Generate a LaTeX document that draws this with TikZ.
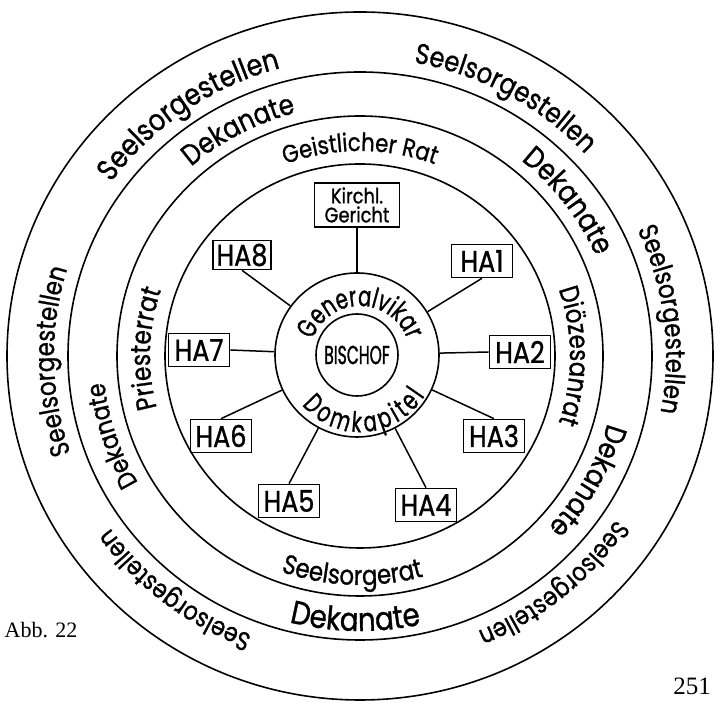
\documentclass[tikz,border=0pt]{standalone}
\usepackage{fontspec}
\usetikzlibrary{decorations.text}

\newfontfamily\ringfont[FakeStretch=0.85,FakeBold=1]{Poppins}
\newfontfamily\narrowfont[FakeStretch=0.7,FakeBold=1]{Poppins}
\newfontfamily\bischoffont[FakeStretch=0.6,FakeBold=1.2]{Poppins}
\newfontfamily\pagefont{Liberation Serif}

% text set along an arc of the rings: [font] size, x radius, y radius, from, to, text
\newcommand{\ringkern}{0pt}
\newcommand{\ringtext}[7][\ringfont]{%
  \def\ringsize{#1\fontsize{#2}{#2}\selectfont\kern\ringkern}%
  \path[decorate,decoration={text along path,text align=center,text={|\ringsize|#7}}]
    (C) ++(#5:#3 and #4) arc[start angle=#5,end angle=#6,x radius=#3,y radius=#4];
}

\begin{document}
\begin{tikzpicture}[x=1pt,y=1pt,
  circleline/.style={line width=1.6pt},
  habox/.style={draw,line width=1.6pt,inner sep=0pt,minimum width=61pt,minimum height=33pt,
    font=\ringfont\fontsize{30}{30}\selectfont},
  spoke/.style={line width=1.5pt}]
  \useasboundingbox (0,0) rectangle (715,703);
  \coordinate (C) at (360,347);
  \coordinate (S) at (357,348);

  % the four big rings
  \draw[circleline] (C) ellipse [x radius=195,y radius=192];
  \draw[circleline] (C) ellipse [x radius=243,y radius=240];
  \draw[circleline] (C) ellipse [x radius=292,y radius=284];
  \draw[circleline] (C) ellipse [x radius=353,y radius=344];

  % Seelsorgestellen
  \ringtext{30}{306}{298}{170}{80}{Seelsorgestellen}
  \ringtext{28.5}{306}{298}{106}{16}{Seelsorgestellen}
  \ringtext{27}{306}{298}{52}{-38}{Seelsorgestellen}
  \ringtext{26}{306}{298}{-5}{-95}{Seelsorgestellen}
  \ringtext{26}{306}{298}{-83}{-173}{Seelsorgestellen}
  \ringtext{27}{306}{298}{226}{136}{Seelsorgestellen}

  % Dekanate
  \ringtext{29}{257}{251}{163}{73}{Dekanate}
  \ringtext{30}{257}{251}{82}{-8}{Dekanate}
  \ringtext{29.5}{257}{251}{16}{-74}{Dekanate}
  \ringtext{32.5}{282}{275}{-136}{-46}{Dekanate}
  \ringtext{26}{257}{251}{243}{153}{Dekanate}

  % councils
  \ringtext{25}{210}{205}{140}{40}{Geistlicher Rat}
  \ringtext{27}{210}{205}{50}{-50}{Diözesanrat}
  \ringtext{27}{235}{229}{-142}{-42}{Seelsorgerat}
  \ringtext{27.5}{210}{205}{228}{128}{Priesterrat}

  % centre
  \node[draw,circle,circleline,minimum size=164pt] (gv) at (S) {};
  \node[draw,circle,circleline,minimum size=82pt,inner sep=0pt,
    font=\bischoffont\fontsize{26}{26}\selectfont] (bischof) at (S) {BISCHOF};
  \begin{scope}[shift={(-3,1)}]
    \ringtext[\narrowfont]{28}{50}{50}{175}{5}{Generalvikar}
    \def\ringkern{3.5pt}
    \ringtext[\narrowfont]{28}{76}{76}{-157}{-17}{Domkapitel}
  \end{scope}

  % Hauptabteilungen
  \node[draw,line width=1.6pt,minimum width=85pt,minimum height=44pt,inner sep=0pt,align=center,
    font=\ringfont\fontsize{21}{19}\selectfont] (kirchl) at (357,498) {Kirchl.\\Gericht};
  \node[habox] (ha1) at (482,442) {HA1};
  \node[habox] (ha2) at (520,351) {HA2};
  \node[habox] (ha3) at (494,267) {HA3};
  \node[habox] (ha4) at (426,198) {HA4};
  \node[habox] (ha5) at (289,202) {HA5};
  \node[habox] (ha6) at (221,267) {HA6};
  \node[habox] (ha7) at (199,353) {HA7};
  \node[habox,minimum width=58pt,minimum height=29pt] (ha8) at (242,448) {HA8};

  \draw[spoke] (kirchl.south) -- (gv);
  \draw[spoke] (ha1.south) -- (gv);
  \draw[spoke] (ha2.west) -- (gv);
  \draw[spoke] (ha3.north) -- (gv);
  \draw[spoke] (ha4.north) -- (gv);
  \draw[spoke] (ha5.north) -- (gv);
  \draw[spoke] (ha6.north) -- (gv);
  \draw[spoke] (ha7.east) -- (gv);
  \draw[spoke] (ha8.south) -- (gv);

  \node[font=\pagefont\fontsize{22}{22}\selectfont] (abb) at (41,73) {Abb. 22};
  \node[font=\pagefont\fontsize{25}{25}\selectfont] (page) at (692,17) {251};
\end{tikzpicture}
\end{document}
